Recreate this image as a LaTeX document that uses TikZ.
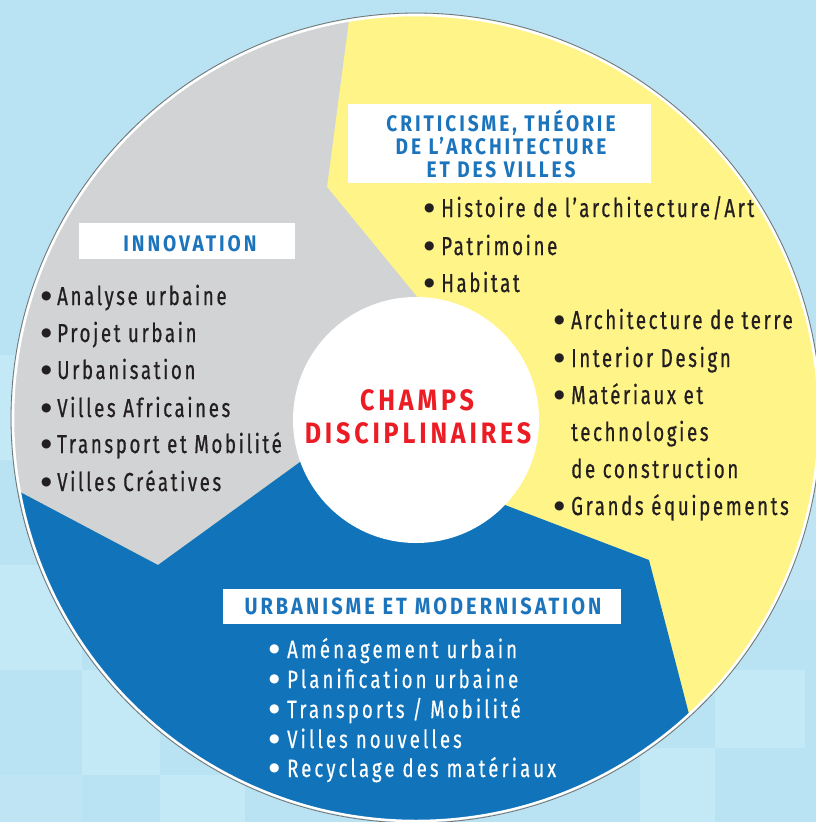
\documentclass[tikz,border=0pt]{standalone}
\usepackage{fontspec}
\setmainfont{Fira Sans}
\newfontfamily\listfont{Fira Sans}[FakeStretch=0.72, LetterSpace=10, FakeBold=0.6]
\newfontfamily\bluelistfont{Fira Sans}[FakeStretch=0.74, LetterSpace=12.5, FakeBold=0.5]
\newfontfamily\headfont{Fira Sans}[FakeStretch=0.85, LetterSpace=13]
\newfontfamily\bulfont{DejaVu Sans}
\newcommand\mybul[1]{\makebox[#1][l]{\raisebox{5.5pt}{\bulfont\fontsize{12}{12}\selectfont ●}}}
\definecolor{bgblue}{HTML}{B9E2F2}
\definecolor{bglight}{HTML}{C3E8F6}
\definecolor{secyellow}{HTML}{FFF488}
\definecolor{secgrey}{HTML}{D1D3D4}
\definecolor{secblue}{HTML}{1173BA}
\definecolor{headblue}{HTML}{1C75BC}
\definecolor{champred}{HTML}{EC1C24}
\definecolor{darktext}{HTML}{231F20}
\tikzset{
  greyitem/.style={anchor=base west, inner sep=0pt, text height=19pt, text depth=6pt, text=darktext, font=\listfont\fontsize{26}{30}\selectfont},
  yellowitem/.style={greyitem},
  blueitem/.style={anchor=base west, inner sep=0pt, text height=18pt, text depth=5.5pt, text=white, font=\bluelistfont\fontsize{25}{30}\selectfont},
  headbox/.style={fill=white, draw=none, inner sep=0pt},
  headtext/.style={anchor=base, inner sep=0pt, text=headblue, font=\headfont\bfseries\fontsize{22.5}{23}\selectfont},
  champtext/.style={anchor=base, inner sep=0pt, text=champred, font=\headfont\bfseries\fontsize{29.5}{33}\selectfont},
  tile/.style={fill=bglight},
}
\begin{document}
\begin{tikzpicture}[x=1pt, y=-1pt]
\useasboundingbox (0,0) rectangle (816,822);
% background
\fill[bgblue] (0,0) rectangle (816,822);
\fill[tile] (0,355) rectangle (50,460);
\fill[tile] (0,565) rectangle (82,670);
\fill[tile] (82,670) rectangle (160,775);
\fill[tile, opacity=0.6] (0,775) rectangle (82,822);
\fill[tile] (160,775) rectangle (245,822);
\fill[tile] (715,670) rectangle (805,748);
\fill[tile] (640,748) rectangle (715,822);
\fill[tile, opacity=0.6] (740,450) rectangle (816,600);
% sectors
\begin{scope}
  \clip (416,418) circle (404pt);
  \fill[secyellow] (0,0) rectangle (816,822);
  \fill[secgrey] (-50,455) -- (22,493) -- (158,565) -- (300,462) -- (416,418) -- (418,298)
    -- (327,187) -- (349,20) -- (358,-50) -- (-50,-50) -- cycle;
  \fill[secblue] (-50,455) -- (22,493) -- (158,565) -- (300,462) -- (416,418) -- (505,505)
    -- (649,560) -- (690,718) -- (737,900) -- (-50,900) -- cycle;
\end{scope}
\draw[white, line width=2.5pt] (416,418) circle (403pt);
\draw[black!55, line width=0.8pt] (416,418) circle (405pt);
% centre
\node[circle, fill=white, minimum size=246pt, inner sep=0pt] (centre) at (416,420) {};
\node[champtext] (champs) at (417,410) {CHAMPS};
\node[champtext] (discip) at (418,443) {DISCIPLINAIRES};
% heading boxes
\node[headbox, minimum width=303pt, minimum height=79pt] (critbox) at (499.5,143.5) {};
\node[headtext] (crit1) at (501,131) {CRITICISME, THÉORIE};
\node[headtext] (crit2) at (501,154) {DE L’ARCHITECTURE};
\node[headtext] (crit3) at (501,177) {ET DES VILLES};
\node[headbox, minimum width=216pt, minimum height=36pt] (innobox) at (187,241) {};
\node[headtext] (inno) at (190,251) {INNOVATION};
\node[headbox, minimum width=398pt, minimum height=35pt] (urbabox) at (422,606.5) {};
\node[headtext, font=\headfont\bfseries\fontsize{23.5}{25}\selectfont] (urba) at (423,614) {URBANISME ET MODERNISATION};
% grey list
\node[greyitem] (g1) at (41,305) {\mybul{16pt}Analyse urbaine};
\node[greyitem] (g2) at (41,342) {\mybul{16pt}Projet urbain};
\node[greyitem] (g3) at (41,379) {\mybul{16pt}Urbanisation};
\node[greyitem] (g4) at (41,417) {\mybul{16pt}Villes Africaines};
\node[greyitem] (g5) at (41,453) {\mybul{16pt}Transport et Mobilité};
\node[greyitem] (g6) at (41,491) {\mybul{16pt}Villes Créatives};
% yellow lists
\node[yellowitem] (y1) at (424,217) {\mybul{17pt}Histoire de l’architecture/Art};
\node[yellowitem] (y2) at (424,255) {\mybul{17pt}Patrimoine};
\node[yellowitem] (y3) at (424,292) {\mybul{17pt}Habitat};
\node[yellowitem] (y4) at (554,329) {\mybul{17pt}Architecture de terre};
\node[yellowitem] (y5) at (554,367) {\mybul{17pt}Interior Design};
\node[yellowitem] (y6) at (554,404) {\mybul{17pt}Matériaux et};
\node[yellowitem] (y7) at (571,441) {technologies};
\node[yellowitem] (y8) at (571,478) {de construction};
\node[yellowitem] (y9) at (554,515) {\mybul{17pt}Grands équipements};
% blue list
\node[blueitem] (b1) at (269,658) {\mybul{18pt}Aménagement urbain};
\node[blueitem] (b2) at (269,688) {\mybul{18pt}Planification urbaine};
\node[blueitem] (b3) at (269,718) {\mybul{18pt}Transports / Mobilité};
\node[blueitem] (b4) at (269,748) {\mybul{18pt}Villes nouvelles};
\node[blueitem] (b5) at (269,777) {\mybul{18pt}Recyclage des matériaux};
\end{tikzpicture}
\end{document}
